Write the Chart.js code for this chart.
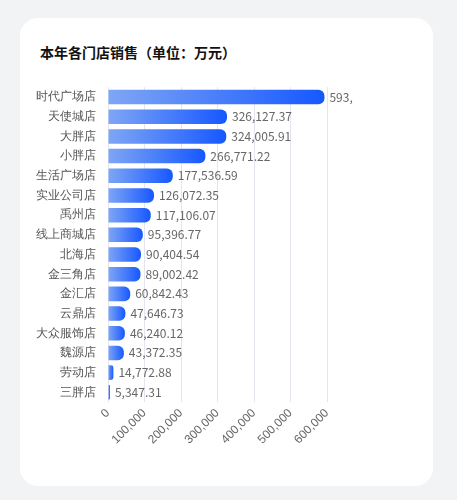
<!DOCTYPE html>
<html><head><meta charset="utf-8">
<script src="https://cdn.jsdelivr.net/npm/chart.js@4"></script>
<style>
body{margin:0;background:#f2f3f5;width:457px;height:500px;overflow:hidden;font-family:"Noto Sans CJK SC","Noto Sans",sans-serif}
.card{position:absolute;left:20px;top:18px;width:413px;height:468px;background:#fff;border-radius:18px}
.title{position:absolute;left:20px;top:24px;font-size:14px;font-weight:bold;color:#111}
.wrap{position:absolute;left:12px;top:58px;width:321px;height:375px;overflow:hidden}
</style></head><body>
<div class="card"><div class="title">本年各门店销售（单位：万元）</div>
<div class="wrap"><canvas id="c"></canvas></div></div>
<script>
const categories=["时代广场店","天使城店","大胖店","小胖店","生活广场店","实业公司店","禹州店","线上商城店","北海店","金三角店","金汇店","云鼎店","大众服饰店","魏源店","劳动店","三胖店"];
const values=[593012.55,326127.37,324005.91,266771.22,177536.59,126072.35,117106.07,95396.77,90404.54,89002.42,60842.43,47646.73,46240.12,43372.35,14772.88,5347.31];
const xTicks=[0,100000,200000,300000,400000,500000,600000];
const fmt=v=>v.toLocaleString('en-US',{minimumFractionDigits:2,maximumFractionDigits:2});
const labelPlugin={id:'vl',afterDatasetsDraw(chart){const ctx=chart.ctx;const meta=chart.getDatasetMeta(0);ctx.save();ctx.font='12px "Noto Sans CJK SC"';ctx.fillStyle='#666';ctx.textBaseline='middle';
meta.data.forEach((b,i)=>{ctx.fillText(fmt(values[i]),b.x+5,b.y);});ctx.restore();}};
new Chart(document.getElementById('c'),{type:'bar',
data:{labels:categories,datasets:[{data:values,borderRadius:6,borderSkipped:'start',barPercentage:0.82,categoryPercentage:0.9,
backgroundColor(ctx){const ch=ctx.chart;const a=ch.chartArea;if(!a)return '#1a5cff';const s=ch.scales.x;const x0=s.getPixelForValue(0);const x1=Math.max(s.getPixelForValue(ctx.raw||0),x0+1);
const g=ch.ctx.createLinearGradient(x0,0,x1,0);g.addColorStop(0,'#7fa6f5');g.addColorStop(1,'#1658ff');return g;}}]},
options:{indexAxis:'y',responsive:true,maintainAspectRatio:false,animation:false,
layout:{padding:{right:26,top:0,bottom:0,left:0}},
plugins:{legend:{display:false},tooltip:{enabled:false}},
scales:{x:{min:0,max:600000,afterBuildTicks(s){s.ticks=xTicks.map(v=>({value:v}));},
grid:{color:'#e3e6ee',drawTicks:false},border:{display:false},
ticks:{color:'#666',font:{size:12},minRotation:45,maxRotation:45,padding:4,callback:v=>v.toLocaleString('en-US')}},
y:{grid:{display:false},border:{display:false},ticks:{color:'#555',font:{size:12},padding:4}}}},
plugins:[labelPlugin]});
</script></body></html>
